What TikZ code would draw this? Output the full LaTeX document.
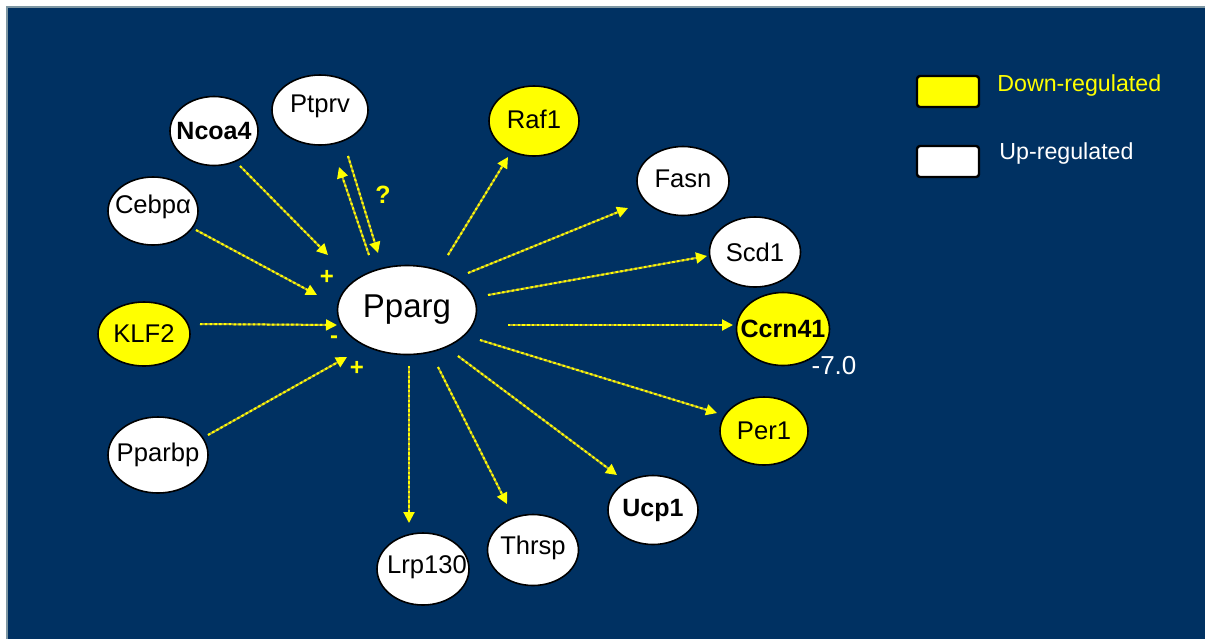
\documentclass[tikz,border=0pt]{standalone}
\usepackage{fontspec}
\setmainfont{Liberation Sans}
\usetikzlibrary{shapes.geometric,arrows.meta}
\definecolor{bg}{HTML}{003162}
\definecolor{yl}{HTML}{FFFF00}
\definecolor{ol}{HTML}{A9A335}
\definecolor{edge}{HTML}{7E97A3}
\tikzset{
  gene/.style={ellipse, draw=black, line width=0.8pt, inner sep=0pt, fill=white},
  down/.style={fill=yl},
  gtext/.style={font=\fontsize{12.8}{14}\selectfont},
  btext/.style={font=\bfseries\fontsize{12.5}{14}\selectfont},
  arr/.style={draw=ol, line width=1pt, -{Triangle[length=5.5pt,width=5.5pt,color=yl]},
    postaction={draw=yl, line width=1pt, dash pattern=on 1.2pt off 1.2pt, arrows=-, shorten >=4pt}},
  sign/.style={text=yl, font=\bfseries\fontsize{12}{14}\selectfont, inner sep=0pt},
  legbox/.style={draw=black, line width=1.2pt, rounded corners=1.5pt, minimum width=31pt, minimum height=15.5pt, inner sep=0pt},
  legtext/.style={anchor=west, font=\fontsize{11.6}{13}\selectfont, inner sep=0pt}
}
\begin{document}
\begin{tikzpicture}[x=0.5pt, y=-0.5pt]
\useasboundingbox (0,0) rectangle (1210,639);
\fill[white] (0,0) rectangle (1210,639);
\fill[bg] (7,7) rectangle (1205,639);
\draw[edge, line width=0.8pt] (7,639) -- (7,7) -- (1205,7);

% central node
\node[gene, minimum width=69.5pt, minimum height=44.5pt,
  label={[font=\fontsize{16.5}{18}\selectfont]center:Pparg}] (pparg) at (407,310) {};

% upstream nodes
\node[gene, minimum width=44pt, minimum height=34.5pt,
  label={[btext]center:Ncoa4}] (ncoa4) at (214,131) {};
\node[gene, minimum width=45pt, minimum height=34pt,
  label={[gtext, yshift=2pt]center:Cebpα}] (cebpa) at (153,211) {};
\node[gene, minimum width=48pt, minimum height=35pt,
  label={[gtext, yshift=2pt]center:Ptprv}] (ptprv) at (320,110) {};
\node[gene, down, minimum width=46pt, minimum height=32pt,
  label={[gtext]center:KLF2}] (klf2) at (144,334) {};
\node[gene, minimum width=50pt, minimum height=38pt,
  label={[gtext]center:Pparbp}] (pparbp) at (158,455) {};

% downstream nodes
\node[gene, down, minimum width=45pt, minimum height=35pt,
  label={[gtext, yshift=1pt]center:Raf1}] (raf1) at (534,121) {};
\node[gene, minimum width=46pt, minimum height=34.5pt,
  label={[gtext, yshift=1pt]center:Fasn}] (fasn) at (683,181) {};
\node[gene, minimum width=45.5pt, minimum height=35pt,
  label={[gtext]center:Scd1}] (scd1) at (755,252) {};
\node[gene, down, minimum width=46.5pt, minimum height=36.5pt,
  label={[btext]center:Ccrn41}] (ccrn41) at (783,329) {};
\node[gene, down, minimum width=44pt, minimum height=34pt,
  label={[gtext]center:Per1}] (per1) at (764,431) {};
\node[gene, minimum width=45pt, minimum height=34.5pt,
  label={[btext]center:Ucp1}] (ucp1) at (653,510) {};
\node[gene, minimum width=45.5pt, minimum height=35.5pt,
  label={[gtext, yshift=1pt]center:Thrsp}] (thrsp) at (533,550) {};
\node[gene, minimum width=46pt, minimum height=36pt,
  label={[gtext, yshift=1pt, xshift=2pt]center:Lrp130}] (lrp130) at (423,569) {};

% value label
\node[text=white, font=\fontsize{13}{15}\selectfont, inner sep=0pt] (val) at (834,366) {-7.0};

% incoming arrows
\draw[arr] ([shift={(26,35)}]ncoa4.center) -- ([shift={(-79,-55)}]pparg.center);
\draw[arr] ([shift={(43,19)}]cebpa.center) -- ([shift={(-90,-15)}]pparg.center);
\draw[arr] ([shift={(56,-10)}]klf2.center) -- ([shift={(-70,15)}]pparg.center);
\draw[arr] ([shift={(50,-20)}]pparbp.center) -- ([shift={(-60,47)}]pparg.center);
\draw[arr] ([shift={(-38,-55)}]pparg.center) -- ([shift={(19,57)}]ptprv.center);
\draw[arr] ([shift={(28,46)}]ptprv.center) -- ([shift={(-29,-57)}]pparg.center);

% outgoing arrows
\draw[arr] ([shift={(41,-55)}]pparg.center) -- ([shift={(-26,36)}]raf1.center);
\draw[arr] ([shift={(61,-37)}]pparg.center) -- ([shift={(-55,27)}]fasn.center);
\draw[arr] ([shift={(81,-15)}]pparg.center) -- ([shift={(-48,4)}]scd1.center);
\draw[arr] ([shift={(101,15)}]pparg.center) -- ([shift={(-50,-4)}]ccrn41.center);
\draw[arr] ([shift={(73,30)}]pparg.center) -- ([shift={(-47,-18)}]per1.center);
\draw[arr] ([shift={(2,56)}]pparg.center) -- ([shift={(-14,-46)}]lrp130.center);
\draw[arr] ([shift={(31,57)}]pparg.center) -- ([shift={(-26,-46)}]thrsp.center);
\draw[arr] ([shift={(51,46)}]pparg.center) -- ([shift={(-36,-35)}]ucp1.center);

% signs
\node[sign, font=\bfseries\fontsize{12.5}{14}\selectfont] (q) at (383,195) {?};
\node[sign] (p1) at (327,277) {+};
\node[sign] (m1) at (334,340) {-};
\node[sign] (p2) at (357,368) {+};

% legend
\node[legbox, fill=yl] (legdown) at (948,91.5) {};
\node[legbox, fill=white] (legup) at (948,161.5) {};
\node[legtext, text=yl] (tdown) at (997,85) {Down-regulated};
\node[legtext, text=white] (tup) at (999,153) {Up-regulated};
\end{tikzpicture}
\end{document}
